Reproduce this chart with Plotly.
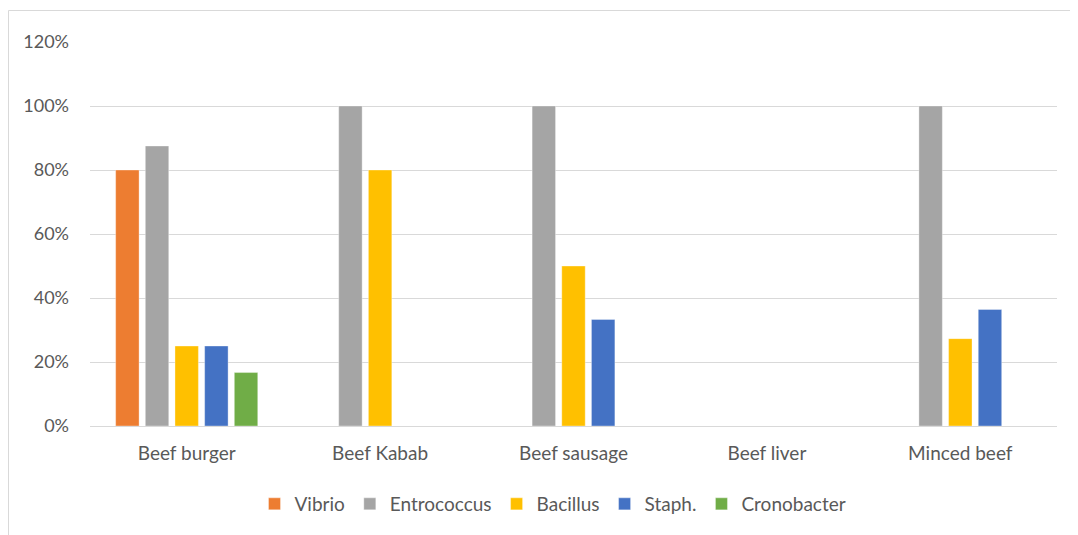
import plotly.graph_objects as go

categories = ["Beef burger", "Beef Kabab", "Beef sausage", "Beef liver", "Minced beef"]
vibrio = [0.80, 0, 0, 0, 0]
entrococcus = [0.875, 1.00, 1.00, 0, 1.00]
bacillus = [0.25, 0.80, 0.50, 0, 0.273]
staph = [0.25, 0, 0.333, 0, 0.364]
cronobacter = [0.167, 0, 0, 0, 0]

series = [
    ("Vibrio", vibrio, "#ED7D31"),
    ("Entrococcus", entrococcus, "#A5A5A5"),
    ("Bacillus", bacillus, "#FFC000"),
    ("Staph.", staph, "#4472C4"),
    ("Cronobacter", cronobacter, "#70AD47"),
]

FONT = "Lato, 'Open Sans', sans-serif"
TXT = "#595959"

fig = go.Figure()
for name, vals, color in series:
    fig.add_trace(go.Bar(
        x=categories, y=vals, name=name,
        marker=dict(color=color, line=dict(color="rgba(255,255,255,0.35)", width=1)),
    ))

# the page body has an 8px margin; work in window pixels and offset
OFF = 8
W, H = 1078 - OFF, 535 - OFF
ml, mr, mt, mb = 90 - OFF, 21, 42 - OFF, 109
pw, ph = W - ml - mr, H - mt - mb

def px_to_paper_x(px):  # window pixel -> paper
    return (px - OFF - ml) / pw

def py_to_paper_y(py):
    return (H - mb - (py - OFF)) / ph

fig.update_layout(
    width=W, height=H,
    margin=dict(l=ml, r=mr, t=mt, b=mb, autoexpand=False),
    paper_bgcolor="white", plot_bgcolor="white",
    barmode="group", bargap=0.233, bargroupgap=0.21,
    font=dict(family=FONT, size=16, color=TXT),
    showlegend=True,
    legend=dict(
        orientation="h", x=px_to_paper_x(553), xanchor="center",
        y=py_to_paper_y(504), yanchor="middle",
        font=dict(family=FONT, size=19, color=TXT),
        itemwidth=30, tracegroupgap=0,
    ),
    xaxis=dict(
        showgrid=False, showline=True, linecolor="#D9D9D9", linewidth=1,
        ticks="", ticklabelstandoff=10,
        tickfont=dict(family=FONT, size=19, color=TXT),
    ),
    yaxis=dict(
        range=[0, 1.2], dtick=0.2, tickformat=".0%",
        showgrid=True, gridcolor="#D9D9D9", gridwidth=1,
        zeroline=False, showline=False, ticks="", ticklabelstandoff=20,
        tickfont=dict(family=FONT, size=18, color=TXT),
    ),
    shapes=[
        dict(type="line", xref="paper", yref="paper",
             x0=px_to_paper_x(8.5), x1=px_to_paper_x(8.5),
             y0=py_to_paper_y(10.5), y1=py_to_paper_y(545),
             line=dict(color="#D9D9D9", width=1)),
        dict(type="line", xref="paper", yref="paper",
             x0=px_to_paper_x(8.5), x1=px_to_paper_x(1090),
             y0=py_to_paper_y(10.5), y1=py_to_paper_y(10.5),
             line=dict(color="#D9D9D9", width=1)),
    ],
)

fig.write_html("out.html")
